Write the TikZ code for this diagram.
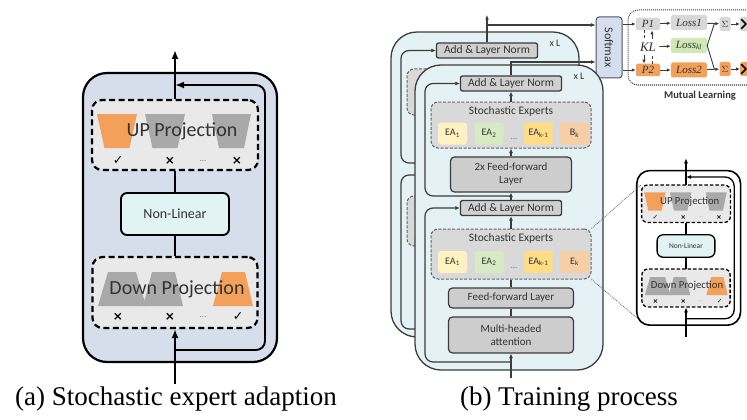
\documentclass[tikz,border=0pt]{standalone}
\usepackage{fontspec}
\setmainfont{Liberation Serif}
\newfontfamily\carl{Carlito}
\newfontfamily\djv{DejaVu Sans}
\usetikzlibrary{arrows.meta,calc}

\definecolor{adbg}{HTML}{D5DEEA}
\definecolor{projgray}{HTML}{E9E9E9}
\definecolor{trapgray}{HTML}{A9A9A9}
\definecolor{orng}{HTML}{F3A05A}
\definecolor{nlfill}{HTML}{E2F3F4}
\definecolor{txt}{HTML}{333333}
\definecolor{blkfill}{HTML}{E4F2F5}
\definecolor{edge}{HTML}{3C3C3C}
\definecolor{lnfill}{HTML}{D0D0D0}
\definecolor{sefill}{HTML}{D9D9D9}
\definecolor{ffill}{HTML}{CDCDCD}
\definecolor{eaA}{HTML}{FFF2C2}
\definecolor{eaB}{HTML}{D6EAC4}
\definecolor{eaC}{HTML}{FFDD85}
\definecolor{eaD}{HTML}{F7CFA6}
\definecolor{smfill}{HTML}{D6DDEC}
\definecolor{smedge}{HTML}{4A5468}
\definecolor{lossgray}{HTML}{D8D8D8}
\definecolor{klgreen}{HTML}{CFE8B5}

\tikzset{
  % adapter (stochastic expert adaption)
  adframe/.style={line width=2.2pt, draw=black, rounded corners=24pt},
  adline/.style={line width=1.9pt, draw=black},
  addash/.style={line width=2.2pt, dash pattern=on 6pt off 3.5pt, rounded corners=10pt},
  adtip/.style={-{Latex[length=9pt,width=7pt]}},
  projbox/.style={draw=black, addash, fill=projgray, inner sep=0pt},
  nlbox/.style={draw=black, line width=1.9pt, rounded corners=6pt, fill=nlfill,
    inner sep=0pt, minimum width=108pt, minimum height=42pt,
    font=\carl\fontsize{14}{14}\selectfont, text=txt},
  projtext/.style={font=\carl\fontsize{20}{20}\selectfont, text=txt},
  chk/.style={font=\djv\fontsize{12.5}{12.5}\selectfont, text=black},
  crs/.style={font=\djv\bfseries\fontsize{12}{12}\selectfont, text=black},
  dotsk/.style={font=\carl\fontsize{9}{9}\selectfont, text=gray},
  pics/adapter/.style={code={
    \draw[adframe, fill=#1] (83,73) rectangle (277,362);
    \coordinate (lowl) at (84,349);
    % up projection experts
    \node[projbox, minimum width=166pt, minimum height=70pt] (up) at (175,135) {};
    \fill[orng] (97,114) -- (137,114) -- (129.5,148) -- (104.5,148) -- cycle;
    \fill[trapgray] (145,114) -- (185,114) -- (177.5,148) -- (152.5,148) -- cycle;
    \fill[trapgray] (212,114) -- (251,114) -- (244,148) -- (219,148) -- cycle;
    \node[projtext] at (182,131) {UP Projection};
    \node[chk] at (118,161) {✓};
    \node[crs] at (170,161) {×};
    \node[dotsk] at (203,161) {...};
    \node[crs] at (237,161) {×};
    % non-linearity
    \node[nlbox] (nl) at (175,214) {Non-Linear};
    % down projection experts
    \node[projbox, minimum width=165pt, minimum height=71pt] (down) at (175,292.5) {};
    \fill[trapgray] (108,272) -- (136,272) -- (146,306) -- (98,306) -- cycle;
    \fill[trapgray] (152,272) -- (175,272) -- (183,306) -- (143,306) -- cycle;
    \fill[orng] (222,272) -- (245,272) -- (253,306) -- (213,306) -- cycle;
    \node[projtext] at (177,289) {Down Projection};
    \node[crs] at (118,317) {×};
    \node[crs] at (170,317) {×};
    \node[dotsk] at (203,317) {...};
    \node[chk] at (238,317) {✓};
    % data flow
    \coordinate (src) at (175,384);
    \coordinate (dst) at (175,50);
    \coordinate (skb) at (175,350);
    \coordinate (skt) at (175,85);
    \draw[adline] (up.south) -- (nl.north);
    \draw[adline] (nl.south) -- (down.north);
    \draw[adline, adtip] (src) -- (down.south);
    \draw[adline, adtip] (up.north) -- (dst);
    \draw[adline, adtip, rounded corners=9pt] (skb) -- (265,350) -- (265,85) -- (skt);
  }},
  % transformer layer
  blkframe/.style={draw=edge, line width=1.3pt, fill=blkfill, rounded corners=26pt},
  xltext/.style={font=\carl\fontsize{10}{10}\selectfont, text=txt},
  lnbox/.style={draw=edge, fill=lnfill, line width=1.3pt, rounded corners=2pt,
    minimum width=101pt, minimum height=15pt, inner sep=0pt,
    font=\carl\fontsize{11.5}{12}\selectfont, text=txt},
  sebox/.style={draw=edge!80, dash pattern=on 3pt off 1.6pt, line width=1pt,
    fill=sefill, rounded corners=7pt, minimum width=160pt, inner sep=0pt},
  setitle/.style={font=\carl\fontsize{11.5}{12}\selectfont, text=txt},
  eabox/.style={minimum width=29pt, minimum height=22pt, rounded corners=3pt,
    inner sep=0pt, font=\carl\fontsize{10}{10}\selectfont, text=txt},
  ffbox/.style={draw=edge, fill=ffill, line width=1.2pt, rounded corners=4pt,
    inner sep=0pt, align=center, font=\carl\fontsize{11}{13}\selectfont, text=txt},
  bline/.style={draw=edge, line width=1.2pt},
  btip/.style={-{Latex[length=4.5pt,width=4pt]}},
  % the copy behind: only its visible parts
  pics/backlayer/.style={code={
    \draw[blkframe] (0,0) rectangle (188,305);
    \node[xltext] at (164,11) {x L};
    \node[lnbox] (ln1) at (96,18.5) {Add \& Layer Norm};
    \node[sebox, minimum height=46pt] (se1) at (96,60) {};
    \node[eabox, fill=eaA] at (37.5,68.5) {};
    \node[lnbox] (ln2) at (96,143) {};
    \node[sebox, minimum height=50pt] (se2) at (96,189) {};
    \node[eabox, fill=eaA] at (37.5,197) {};
    \coordinate (r2) at (96,297);
    \coordinate (r1) at (96,131);
    \draw[bline, btip, rounded corners=8pt] (r2) -- (10,297) -- (10,143) -- (ln2.west);
    \draw[bline, btip, rounded corners=8pt] (r1) -- (10,131) -- (10,18.5) -- (ln1.west);
  }},
  pics/layer/.style={code={
    \draw[blkframe] (0,0) rectangle (188,305);
    \node[xltext] at (164,11) {x L};
    \node[lnbox] (ln1) at (96,18.5) {Add \& Layer Norm};
    \node[sebox, minimum height=46pt] (se1) at (96,60) {};
    \node[setitle] at (96,46) {Stochastic Experts};
    \node[eabox, fill=eaA] at (37.5,68.5) {EA\textsubscript{1}};
    \node[eabox, fill=eaB] at (74,68.5) {EA\textsubscript{2}};
    \node[dotsk] at (99,74) {...};
    \node[eabox, fill=eaC] at (123.5,68.5) {EA\textsubscript{k-1}};
    \node[eabox, fill=eaD] at (159.5,68.5) {B\textsubscript{k}};
    \node[ffbox, minimum width=121pt, minimum height=35pt] (ff2) at (96,109.5) {2x Feed-forward\\Layer};
    \node[lnbox] (ln2) at (96,143) {Add \& Layer Norm};
    \node[sebox, minimum height=50pt] (se2) at (96,189) {};
    \node[setitle] at (96,173) {Stochastic Experts};
    \node[eabox, fill=eaA] at (37.5,197) {EA\textsubscript{1}};
    \node[eabox, fill=eaB] at (74,197) {EA\textsubscript{2}};
    \node[dotsk] at (99,203) {...};
    \node[eabox, fill=eaC] at (123.5,197) {EA\textsubscript{k-1}};
    \node[eabox, fill=eaD] at (159.5,197) {E\textsubscript{k}};
    \node[ffbox, minimum width=125pt, minimum height=20pt] (ff) at (96,233) {Feed-forward Layer};
    \node[ffbox, minimum width=125pt, minimum height=36pt] (mha) at (96,270) {Multi-headed\\attention};
    \coordinate (src) at (96,313);
    \coordinate (r2) at (96,297);
    \coordinate (r1) at (96,131);
    \draw[bline, btip] (src) -- (mha.south);
    \draw[bline] (mha.north) -- (ff.south);
    \draw[bline] (ff.north) -- (se2.south);
    \draw[bline, btip] (se2.north) -- (ln2.south);
    \draw[bline, btip] (ln2.north) -- (ff2.south);
    \draw[bline, btip] (ff2.north) -- (se1.south);
    \draw[bline, btip] (se1.north) -- (ln1.south);
    \draw[bline, btip, rounded corners=8pt] (r2) -- (10,297) -- (10,143) -- (ln2.west);
    \draw[bline, btip, rounded corners=8pt] (r1) -- (10,131) -- (10,18.5) -- (ln1.west);
  }},
  % mutual learning
  smbox/.style={draw=smedge, fill=smfill, line width=1pt, rounded corners=3pt,
    minimum width=26pt, minimum height=61pt, inner sep=0pt},
  pbox/.style={rounded corners=2pt, minimum width=24pt, minimum height=12.5pt,
    inner sep=0pt, font=\itshape\fontsize{11}{11}\selectfont, text=txt},
  lossbox/.style={rounded corners=2pt, minimum width=36pt, minimum height=15pt,
    inner sep=0pt, font=\itshape\fontsize{11}{11}\selectfont, text=txt},
  sigbox/.style={rounded corners=2pt, minimum width=11pt, minimum height=14pt,
    inner sep=0pt, font=\fontsize{9}{9}\selectfont, text=txt},
  chevron/.style={draw=black, line width=1.7pt, line cap=round, line join=round},
  mltip/.style={-{Latex[length=4pt,width=3.5pt]}},
  mlline/.style={draw=edge, line width=0.9pt},
  zoomline/.style={draw=edge!80, line width=0.8pt, densely dotted},
  captext/.style={font=\fontsize{27}{28}\selectfont, anchor=base},
}

\begin{document}
\begin{tikzpicture}[x=1pt,y=-1pt]
\useasboundingbox (0,0) rectangle (747,420);
\fill[white] (0,0) rectangle (747,420);

% ---------- (a) stochastic expert adapter ----------
\pic (a-) {adapter=adbg};
\node[captext] at (176,405) {(a) Stochastic expert adaption};

% ---------- (b) stacked transformer layers ----------
\pic (bk-) at (391,32) {backlayer};
\coordinate (topout) at (487,15);
\node[smbox] (sm) at (609,47.5) {};
\node[rotate=-90, font=\carl\fontsize{12}{12}\selectfont, text=txt] at (sm) {Softmax};
\draw[bline, btip] (bk-ln1.north) -- (topout);
\draw[bline, btip] (bk-ln1.north |- 0,25) -- (sm.west |- 0,25);
\pic (fr-) at (415,65) {layer};
\draw[bline, btip] (fr-ln1.north) -- (fr-ln1.north |- 0,62) -- (sm.west |- 0,62);

% zoomed adapter
\begin{scope}[shift={(686,185)}, scale=0.535, transform shape, shift={(-175,-100)},
  adframe/.style={line width=1.6pt, draw=black, rounded corners=13pt},
  adline/.style={line width=1.3pt, draw=black},
  addash/.style={line width=1.3pt, dash pattern=on 3.5pt off 2pt, rounded corners=6pt},
  adtip/.style={-{Latex[length=5pt,width=4pt]}},
  nlbox/.append style={line width=1.3pt}]
  \pic (i-) {adapter=white};
\end{scope}
\draw[zoomline] (fr-se2.north east) -- (i-up.north west);
\draw[zoomline] (fr-se2.south east) -- (i-lowl);

% mutual learning
\draw[draw=edge, line width=1pt, densely dotted, rounded corners=10pt]
  (760,10) -- (628,10) -- (628,85) -- (760,85);
\node[font=\carl\bfseries\fontsize{10.5}{11}\selectfont, text=txt] at (700,96) {Mutual Learning};
\node[pbox, fill=lossgray] (p1) at (648,24) {P1};
\node[pbox, fill=orng] (p2) at (648,70) {P2};
\node[font=\itshape\fontsize{13}{13}\selectfont, text=txt] (kl) at (648,47) {KL};
\node[lossbox, fill=lossgray] (l1) at (689,22.5) {Loss1};
\node[lossbox, fill=klgreen] (lkl) at (689,45.5) {Loss\textsubscript{kl}};
\node[lossbox, fill=orng] (l2) at (689,70) {Loss2};
\node[sigbox, fill=lossgray] (s1) at (725,24) {$\Sigma$};
\node[sigbox, fill=orng] (s2) at (725,69) {$\Sigma$};
\node[sigbox, fill=lossgray, anchor=west, minimum width=16pt] (n1) at (740,24) {};
\node[sigbox, fill=orng, anchor=west, minimum width=16pt] (n2) at (740,69) {};
\draw[chevron] (741.5,19.5) -- (746,24) -- (741.5,28.5);
\draw[chevron] (741.5,64.5) -- (746,69) -- (741.5,73.5);

\draw[mlline, mltip] (sm.east |- p1) -- (p1);
\draw[mlline, mltip] (sm.east |- p2) -- (p2);
\draw[mlline, densely dashed, line width=0.6pt] ([xshift=-4pt]p1.south) -- ([xshift=-4pt]kl.north);
\draw[mlline, mltip] ([xshift=4pt]kl.north) -- ([xshift=4pt]p1.south);
\draw[mlline, mltip] ([xshift=-4pt]kl.south) -- ([xshift=-4pt]p2.north);
\draw[mlline, densely dashed, line width=0.6pt] ([xshift=4pt]p2.north) -- ([xshift=4pt]kl.south);
\draw[mlline, mltip] (p1) -- (l1);
\draw[mlline, mltip] (p2) -- (l2);
\draw[mlline, mltip] (kl) -- (lkl);
\draw[mlline, mltip] (l1) -- (s1);
\draw[mlline, mltip] (l2) -- (s2);
\coordinate (j1) at ($(l1.east)!0.6!(s1.west)$);
\coordinate (j2) at ($(l2.east)!0.6!(s2.west)$);
\draw[mlline] (j1) -- (lkl.east) -- (j2);
\draw[mlline, mltip] (s1) -- (n1);
\draw[mlline, mltip] (s2) -- (n2);

\node[captext] at (569,405) {(b) Training process};
\end{tikzpicture}
\end{document}
